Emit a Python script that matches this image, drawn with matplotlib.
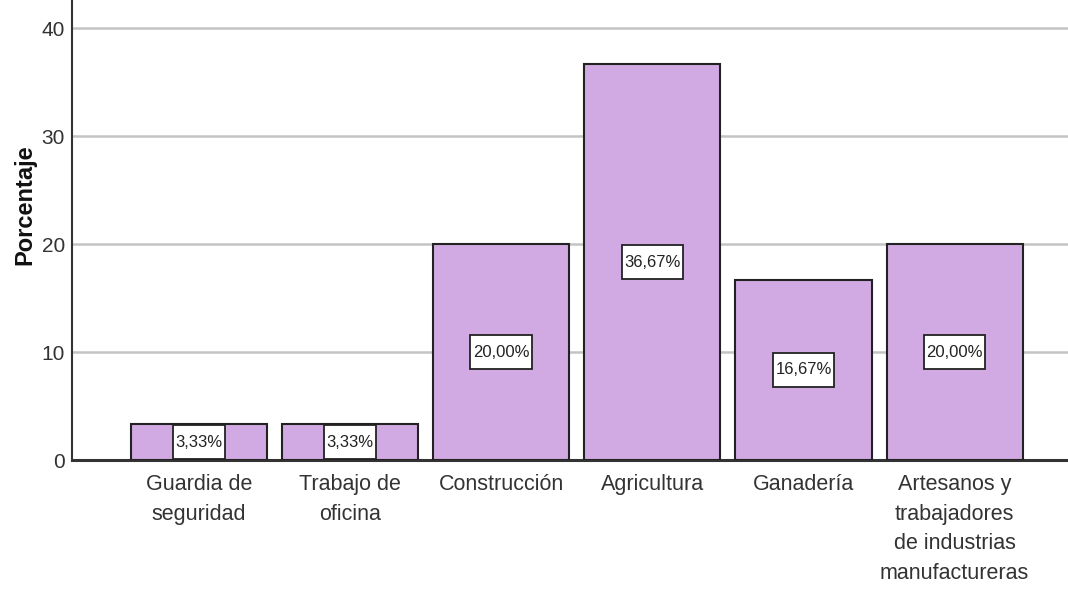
import matplotlib.pyplot as plt
import numpy as np
from matplotlib.path import Path

categories = ['Guardia de\nseguridad', 'Trabajo de\noficina', 'Construcción',
              'Agricultura', 'Ganadería',
              'Artesanos y\ntrabajadores\nde industrias\nmanufactureras']
percentages = [3.33, 3.33, 20.00, 36.67, 16.67, 20.00]
yticks = [0, 10, 20, 30, 40]

plt.rcParams['font.family'] = ['Liberation Sans', 'DejaVu Sans']


def tall_box(x0, y0, width, height, mutation_size):
    # label box: little side padding, more above and below
    px, py = 0.15 * mutation_size, 0.55 * mutation_size
    x0, y0 = x0 - px, y0 - py
    x1, y1 = x0 + width + 2 * px, y0 + height + 2 * py
    return Path([(x0, y0), (x1, y0), (x1, y1), (x0, y1), (x0, y0)], closed=True)


fig = plt.figure(figsize=(10.68, 5.99), dpi=100)
ax = fig.add_axes([72 / 1068, 1 - 460 / 599, 1 - 72 / 1068, 460 / 599])

x = np.arange(len(categories))
ax.yaxis.grid(True, color='#c4c4c4', linewidth=1.8)
ax.set_axisbelow(True)
bars = ax.bar(x, percentages, width=0.9, color='#d1a9e3', edgecolor='#222222',
              linewidth=1.5, zorder=3)

for xi, v in zip(x, percentages):
    ax.text(xi, v / 2, f'{v:.2f}%'.replace('.', ','), ha='center', va='center',
            fontsize=12, color='#222222', zorder=4,
            bbox=dict(boxstyle=tall_box, fc='white', ec='#222222', lw=1.3))

ax.set_xlim(-0.84, 5.75)
ax.set_ylim(0, 42.6)
ax.set_yticks(yticks)
ax.set_xticks(x)
ax.set_xticklabels(categories, fontsize=15.5, color='#333333', linespacing=1.55)
ax.tick_params(axis='y', length=0, pad=5, labelsize=15, labelcolor='#333333')
ax.tick_params(axis='x', length=0, pad=10)

for s in ['top', 'right']:
    ax.spines[s].set_visible(False)
ax.spines['left'].set_color('#333333')
ax.spines['left'].set_linewidth(1.5)
ax.spines['bottom'].set_color('#333333')
ax.spines['bottom'].set_linewidth(2.2)

ax.set_ylabel('Porcentaje', fontsize=17, fontweight='bold', color='#111111')
ax.yaxis.set_label_coords(-0.036, 0.554)

plt.savefig('out.png', dpi=100)
